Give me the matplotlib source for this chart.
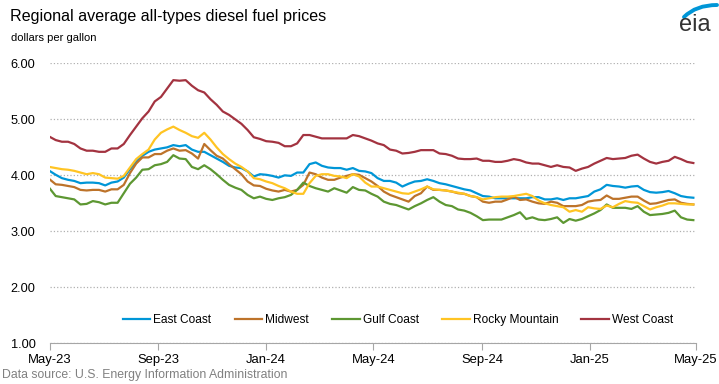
import matplotlib
matplotlib.use("Agg")
import matplotlib.pyplot as plt
import matplotlib.dates as mdates
from matplotlib.patches import PathPatch
from matplotlib.path import Path
import pandas as pd

plt.rcParams['font.family'] = ['Liberation Sans', 'DejaVu Sans']

# weekly prices, dollars per gallon, first week May 1 2023
dates = pd.date_range('2023-05-01', periods=105, freq='W-MON')

east_coast = [4.08, 4.01, 3.95, 3.92, 3.90, 3.86, 3.87, 3.87, 3.86, 3.82, 3.87, 3.89, 3.96, 4.11, 4.24, 4.35, 4.42, 4.46,
              4.48, 4.50, 4.54, 4.52, 4.54, 4.46, 4.42, 4.42, 4.36, 4.30, 4.24, 4.17, 4.14, 4.13, 4.07, 3.98, 4.02, 4.01,
              3.99, 3.96, 4.00, 3.99, 4.05, 4.05, 4.20, 4.23, 4.17, 4.14, 4.13, 4.13, 4.10, 4.13, 4.08, 4.07, 4.04, 3.95,
              3.90, 3.90, 3.87, 3.80, 3.85, 3.89, 3.90, 3.93, 3.90, 3.86, 3.84, 3.81, 3.78, 3.75, 3.73, 3.68, 3.63,
              3.62, 3.59, 3.59, 3.59, 3.59, 3.59, 3.59, 3.61, 3.61, 3.57, 3.57, 3.59, 3.56, 3.59, 3.59, 3.61, 3.63, 3.71,
              3.75, 3.83, 3.81, 3.80, 3.78, 3.80, 3.81, 3.74, 3.70, 3.69, 3.70, 3.72, 3.68, 3.63, 3.61, 3.60]

midwest = [3.93, 3.84, 3.83, 3.81, 3.79, 3.74, 3.73, 3.74, 3.74, 3.71, 3.75, 3.75, 3.83, 4.04, 4.21, 4.32, 4.32, 4.38,
           4.38, 4.44, 4.48, 4.44, 4.45, 4.39, 4.30, 4.56, 4.45, 4.35, 4.30, 4.20, 4.11, 4.02, 3.89, 3.82, 3.81, 3.76,
           3.73, 3.71, 3.74, 3.71, 3.74, 3.83, 4.05, 4.02, 3.96, 3.92, 3.92, 3.96, 3.99, 4.02, 4.01, 3.95, 3.89, 3.81,
           3.71, 3.65, 3.61, 3.57, 3.53, 3.63, 3.68, 3.80, 3.74, 3.74, 3.73, 3.71, 3.68, 3.67, 3.63, 3.61, 3.53,
           3.51, 3.53, 3.53, 3.57, 3.62, 3.56, 3.57, 3.53, 3.50, 3.49, 3.53, 3.51, 3.45, 3.45, 3.45, 3.47, 3.53, 3.55,
           3.56, 3.64, 3.58, 3.58, 3.60, 3.62, 3.62, 3.55, 3.49, 3.50, 3.53, 3.56, 3.57, 3.51, 3.49, 3.48]

gulf_coast = [3.77, 3.63, 3.61, 3.59, 3.57, 3.48, 3.49, 3.54, 3.52, 3.48, 3.51, 3.51, 3.68, 3.85, 3.96, 4.10, 4.11, 4.18,
              4.20, 4.24, 4.36, 4.30, 4.29, 4.15, 4.11, 4.18, 4.11, 4.02, 3.92, 3.83, 3.78, 3.74, 3.65, 3.59, 3.62, 3.58,
              3.56, 3.59, 3.61, 3.65, 3.74, 3.87, 3.81, 3.77, 3.74, 3.71, 3.77, 3.73, 3.69, 3.79, 3.74, 3.73, 3.67, 3.62,
              3.53, 3.49, 3.47, 3.43, 3.39, 3.45, 3.50, 3.56, 3.61, 3.53, 3.47, 3.45, 3.39, 3.37, 3.33, 3.27, 3.20,
              3.21, 3.21, 3.21, 3.25, 3.29, 3.34, 3.22, 3.25, 3.21, 3.20, 3.22, 3.25, 3.15, 3.22, 3.19, 3.22, 3.27, 3.32,
              3.38, 3.48, 3.42, 3.42, 3.42, 3.40, 3.45, 3.35, 3.29, 3.30, 3.31, 3.33, 3.37, 3.25, 3.21, 3.20]

rocky_mountain = [4.15, 4.13, 4.11, 4.10, 4.08, 4.05, 4.02, 4.04, 4.02, 3.96, 3.95, 3.94, 3.99, 4.14, 4.29, 4.38, 4.46, 4.64,
                  4.76, 4.82, 4.87, 4.81, 4.76, 4.70, 4.67, 4.76, 4.64, 4.50, 4.38, 4.29, 4.21, 4.15, 4.07, 3.95, 3.93, 3.89,
                  3.86, 3.81, 3.77, 3.71, 3.67, 3.67, 3.86, 3.99, 4.02, 4.02, 3.99, 3.98, 3.95, 4.02, 3.98, 3.87, 3.80, 3.80,
                  3.77, 3.74, 3.71, 3.68, 3.67, 3.71, 3.75, 3.80, 3.75, 3.74, 3.73, 3.71, 3.69, 3.67, 3.63, 3.61, 3.57,
                  3.59, 3.61, 3.62, 3.62, 3.63, 3.65, 3.67, 3.63, 3.55, 3.50, 3.47, 3.45, 3.43, 3.35, 3.38, 3.35, 3.43, 3.41,
                  3.40, 3.46, 3.43, 3.49, 3.54, 3.52, 3.51, 3.45, 3.39, 3.43, 3.46, 3.50, 3.50, 3.49, 3.48, 3.48]

west_coast = [4.69, 4.63, 4.60, 4.60, 4.56, 4.48, 4.44, 4.44, 4.42, 4.42, 4.48, 4.48, 4.56, 4.72, 4.87, 5.02, 5.14, 5.32,
              5.40, 5.55, 5.70, 5.69, 5.70, 5.60, 5.52, 5.48, 5.36, 5.26, 5.14, 5.08, 5.00, 4.92, 4.81, 4.68, 4.65, 4.61,
              4.60, 4.58, 4.52, 4.52, 4.57, 4.72, 4.72, 4.69, 4.66, 4.66, 4.66, 4.66, 4.66, 4.72, 4.70, 4.66, 4.62, 4.57,
              4.54, 4.46, 4.44, 4.39, 4.40, 4.42, 4.45, 4.45, 4.45, 4.39, 4.38, 4.35, 4.30, 4.29, 4.29, 4.30, 4.26,
              4.26, 4.24, 4.24, 4.26, 4.29, 4.27, 4.23, 4.21, 4.21, 4.18, 4.15, 4.18, 4.15, 4.14, 4.08, 4.12, 4.15, 4.21,
              4.26, 4.31, 4.29, 4.30, 4.31, 4.35, 4.37, 4.30, 4.24, 4.21, 4.24, 4.26, 4.33, 4.29, 4.24, 4.22]

series = [("East Coast", east_coast, "#0096d7"),
          ("Midwest", midwest, "#bd732a"),
          ("Gulf Coast", gulf_coast, "#5d9732"),
          ("Rocky Mountain", rocky_mountain, "#ffc423"),
          ("West Coast", west_coast, "#a33340")]

W, H = 719, 384
fig = plt.figure(figsize=(W / 100, H / 100), dpi=100)
ax = fig.add_axes([49.5 / W, 0.106, (696 - 49.5) / W, 0.729])

for name, vals, col in series:
    ax.plot(dates, vals, color=col, lw=1.6, label=name)

ax.set_ylim(1, 6)
ax.set_yticks([1, 2, 3, 4, 5, 6])
ax.set_yticklabels(["%.2f" % v for v in [1, 2, 3, 4, 5, 6]], fontsize=9.2)
ax.set_xlim(pd.Timestamp('2023-05-01'), pd.Timestamp('2025-05-01'))
ax.xaxis.set_major_locator(mdates.MonthLocator(bymonth=[1, 5, 9]))
ax.xaxis.set_major_formatter(mdates.DateFormatter('%b-%y'))
ax.tick_params(axis='x', labelsize=9.4, length=5, color='#a6a6a6', pad=3)
ax.tick_params(axis='y', length=0, pad=10)
ax.yaxis.grid(True, ls=':', color='#b0b0b0', lw=0.9)
ax.set_axisbelow(True)
for s in ['top', 'right', 'left']:
    ax.spines[s].set_visible(False)
ax.spines['bottom'].set_color('#a6a6a6')

ax.legend(loc='center', bbox_to_anchor=(398 / W, 1 - 320 / H), bbox_transform=fig.transFigure,
          ncol=5, frameon=False, fontsize=8.6, handlelength=2.3, handletextpad=0.25, columnspacing=1.95)

fig.text(10 / W, 1 - 17 / H, "Regional average all-types diesel fuel prices", fontsize=11.6, va='center', ha='left')
fig.text(11 / W, 1 - 38 / H, "dollars per gallon", fontsize=8, va='center', ha='left')
fig.text(2 / W, 1 - 375 / H, "Data source: U.S. Energy Information Administration", fontsize=8.8,
         color='#808080', va='center', ha='left')

# eia logo: text plus blue swoosh
fig.text(679 / W, 1 - 25 / H, "eia", fontsize=17, color='#333333', va='center', ha='left')
pts = [(684, 17), (696, 5), (717, 5)]
swoosh = Path([(x / W, 1 - y / H) for x, y in pts], [Path.MOVETO, Path.CURVE3, Path.CURVE3])
fig.add_artist(PathPatch(swoosh, transform=fig.transFigure, facecolor='none',
                         edgecolor='#0096d7', lw=2.8, capstyle='round'))

fig.savefig('out.png', dpi=100)
